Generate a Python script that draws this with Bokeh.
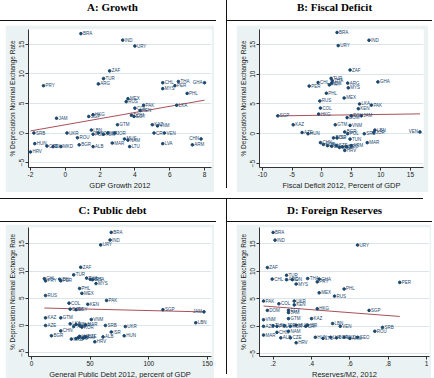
import numpy as np
from bokeh.plotting import figure
from bokeh.models import Range1d, FixedTicker, Spacer, Div, ColumnDataSource
from bokeh.layouts import row, column
from bokeh.embed import file_html
from bokeh.resources import INLINE
from bokeh.core.properties import value

# ---------------- data ----------------
y_label = "% Depreciation Nominal Exchange Rate"
y_ticks = [-5, 0, 5, 10, 15]

# Panel A: GDP growth 2012
a_labels = ["BRA","IND","URY","ZAF","TUR","ARG","PRY","CHL","THA","PER","MYS","GHA","PHL","MEX","RUS",
            "PAK","KEN","COL","LKA","JAM","SGP","HKG","DOM","EGY","GTM","KAZ","VNM","CRI","VEN","SRB",
            "UKR","ROU","LBN","POL","KOR","TUN","ISR","JOR","MUS","NAM","MAR","LTU","LVA","ARM","CHN",
            "ALB","BGR","MKD","CZE","HUN","BIH","HRV"]
a_x = [0.9,3.3,4.0,2.55,2.2,1.9,-1.25,5.6,6.5,6.3,5.6,8.0,7.0,3.6,3.5,
       4.5,4.3,4.0,6.4,-0.5,1.35,1.6,3.8,3.95,3.0,5.0,5.3,5.1,5.7,-1.8,
       0.1,0.7,1.5,1.6,1.9,2.2,2.45,2.85,3.4,3.6,2.7,3.7,5.6,7.3,7.8,
       1.6,0.8,-0.25,-1.05,-1.75,-0.7,-2.0]
a_y = [16.8,15.7,14.7,10.5,9.2,8.3,8.0,8.5,8.7,8.0,7.5,8.5,6.7,5.8,5.3,
       4.7,3.8,4.2,4.7,2.5,2.8,3.1,3.0,2.8,1.4,1.4,1.2,0.0,0.0,0.0,
       0.0,-0.8,0.5,-0.2,0.0,-0.2,0.0,0.0,-1.0,-1.2,-1.7,-2.3,-1.8,-2.0,-1.0,
       -2.3,-2.0,-2.3,-2.2,-1.8,-2.3,-3.2]
a_fit = (1.39, 0.52)          # intercept, slope
a_xticks = [-2, 0, 2, 4, 6, 8]
a_xlabels = ["-2", "0", "2", "4", "6", "8"]

# Panel B: fiscal deficit 2012
b_labels = ["BRA","IND","URY","ZAF","TUR","THA","IDN","PRY","CHL","PER","ARG","MYS","GHA","PHL","RUS",
            "MEX","LKA","PAK","KEN","COL","SGP","HKG","DOM","EGY","JAM","GTM","VNM","KAZ","AZE","HUN",
            "BGR","POL","SRB","LBN","JOR","VEN","ROU","ISR","TUN","MAR","CHN","KOR","LTU","LVA","CZE",
            "MKD","ALB","GEO","ARM","HRV"]
b_x = [2.6,8.0,2.8,4.8,1.6,1.8,1.7,1.3,-0.6,-2.1,4.4,4.5,9.5,0.8,-0.3,
       3.8,6.4,8.4,6.2,-0.2,-7.4,-0.5,4.3,5.0,6.7,2.3,4.8,-4.8,-3.3,-2.3,
       3.9,4.4,7.2,9.0,8.8,16.6,2.0,2.6,4.8,7.7,-0.2,0.3,1.0,1.7,2.5,
       3.0,3.5,4.2,5.0,3.9]
b_y = [17.0,15.7,14.8,10.7,9.3,8.9,8.5,8.2,8.6,8.0,8.5,7.7,8.7,6.8,5.5,
       6.0,5.0,4.8,4.2,4.3,3.0,3.3,2.7,3.0,3.0,1.5,1.4,1.5,0.2,0.0,
       0.3,0.0,0.0,0.6,0.2,0.3,-0.7,-0.7,-0.9,-1.5,-1.5,-1.8,-2.0,-2.1,-2.0,
       -2.3,-2.2,-2.2,-2.0,-2.8]
b_fit = (3.1, 0.014)
b_xticks = [-10, -5, 0, 5, 10, 15]
b_xlabels = ["-10", "-5", "0", "5", "10", "15"]

# Panel C: general public debt 2012
c_labels = ["BRA","IND","URY","ZAF","TUR","THA","ARG","IDN","MYS","CHL","PRY","PER","GHA","PHL","MEX",
            "RUS","COL","KEN","PAK","DOM","EGY","SGP","JAM","LBN","KAZ","GTM","VNM","AZE","LKA","TUN",
            "POL","JOR","KOR","MAR","SRB","UKR","ISR","HUN","BGR","CHN","ALB","HRV","LTU","LVA","ROU",
            "CZE","MKD","ARM"]
c_x = [68,67,59,42,36,47,50,24,55,11,12,25,52,41,43,
       12,32,48,64,33,38,112,147,140,12,25,51,12,33,36,
       38,41,43,46,63,80,68,79,17,25,61,54,40,41,38,
       46,34,44]
c_y = [17.1,15.7,14.8,10.7,9.3,8.7,8.5,8.5,7.7,8.6,8.2,8.2,8.4,6.8,5.9,
       5.5,4.1,3.9,4.6,3.0,2.9,2.9,2.5,0.5,1.4,1.4,1.1,0.0,0.3,-0.2,
       0.2,0.0,-0.3,0.1,0.0,-0.2,-1.2,-1.9,-1.9,-1.0,-2.1,-3.0,-2.2,-2.0,-2.4,
       -2.1,-2.5,-2.3]
c_fit = (3.26, -0.0052)
c_xticks = [0, 50, 100, 150]
c_xlabels = ["0", "50", "100", "150"]

# Panel D: reserves / M2 2012
d_labels = ["BRA","IND","URY","ZAF","TUR","CHL","ARG","IDN","THA","MYS","GHA","PRY","PER","PHL","MEX",
            "RUS","PAK","COL","UKR","KEN","DOM","EGY","JAM","HKG","SGP","VNM","GTM","KAZ","AZE","TUN",
            "POL","JOR","KOR","MUS","CRI","ISR","LBN","VEN","SRB","ROU","MAR","CHN","NAM","ALB","CZE",
            "HRV","HUN","LTU","LVA","BGR","MKD","ARM","GEO"]
d_x = [0.20,0.21,0.64,0.17,0.27,0.195,0.27,0.30,0.38,0.32,0.44,0.43,0.86,0.57,0.44,
       0.52,0.15,0.23,0.31,0.31,0.17,0.28,0.28,0.43,0.70,0.15,0.28,0.40,0.15,0.20,
       0.22,0.26,0.29,0.32,0.37,0.38,0.51,0.55,0.77,0.73,0.15,0.22,0.28,0.24,0.29,
       0.32,0.42,0.46,0.50,0.53,0.57,0.60,0.64]
d_y = [17.1,15.7,14.8,10.7,9.3,8.6,8.5,8.5,8.7,7.7,8.6,8.1,8.0,6.8,6.1,
       5.5,4.6,4.1,4.6,3.9,2.9,2.9,2.5,3.2,2.9,1.2,1.4,1.4,0.0,0.1,
       0.0,0.1,0.0,0.2,0.0,0.2,0.5,0.0,-0.2,-0.9,-1.6,-1.1,-0.9,-2.1,-2.1,
       -3.0,-2.0,-2.2,-2.0,-2.1,-2.0,-2.2,-2.0]
d_fit = (4.1, -2.68)
d_xticks = [0.2, 0.4, 0.6, 0.8, 1.0]
d_xlabels = [".2", ".4", ".6", ".8", "1"]

titles = ["A: Growth", "B: Fiscal Deficit", "C: Public debt", "D: Foreign Reserves"]
x_titles = ["GDP Growth 2012", "Fiscal Deficit 2012, Percent of GDP",
            "General Public Debt 2012, percent of GDP", "Reserves/M2, 2012"]

# ---------------- style ----------------
NAVY = "#1A476F"
FIT = "#A85058"
BG = "#EAF2F3"
GRID = "#DCE6E8"
AXC = "#333333"
SANS = "Liberation Sans"


def panel(labels, xs, ys, fit, xticks, xlabels, xtitle, xr, yr, w, h, borders):
    bl, br, bt, bb = borders
    p = figure(width=w, height=h, output_backend="svg", toolbar_location=None,
               x_range=Range1d(*xr), y_range=Range1d(*yr),
               min_border_left=bl, min_border_right=br,
               min_border_top=bt, min_border_bottom=bb)
    p.background_fill_color = "white"
    p.border_fill_color = BG
    p.outline_line_color = None
    p.xgrid.visible = False
    p.ygrid.grid_line_color = GRID
    p.ygrid.grid_line_width = 1

    p.xaxis.ticker = FixedTicker(ticks=xticks)
    p.xaxis.major_label_overrides = {t: l for t, l in zip(xticks, xlabels)}
    p.yaxis.ticker = FixedTicker(ticks=y_ticks)
    p.yaxis.major_label_orientation = "vertical"
    p.xaxis.axis_label = xtitle
    p.yaxis.axis_label = y_label
    for ax in (p.xaxis[0], p.yaxis[0]):
        ax.axis_line_color = AXC
        ax.major_tick_line_color = AXC
        ax.major_tick_out = 3
        ax.major_tick_in = 0
        ax.minor_tick_out = 0
        ax.minor_tick_in = 0
        ax.major_label_text_font = SANS
        ax.major_label_text_font_size = "6.5px"
        ax.major_label_text_color = "#222222"
        ax.major_label_standoff = 1
        ax.axis_label_text_font = SANS
        ax.axis_label_text_font_style = "normal"
        ax.axis_label_text_color = "#222222"
        ax.axis_label_standoff = 1
    p.xaxis.axis_label_text_font_size = "7.5px"
    p.yaxis.axis_label_text_font_size = "6.5px"

    lo, hi = min(xs), max(xs)
    fx = np.array([lo, hi])
    p.line(fx, fit[0] + fit[1] * fx, line_color=FIT, line_width=1)
    p.scatter(xs, ys, size=2.6, marker="circle", fill_color=NAVY, line_color=NAVY)

    # labels to the right of each point; points close to the right edge get theirs on the left
    span = xr[1] - xr[0]
    near = [(x - xr[0]) / span > 0.93 for x in xs]
    src_r = ColumnDataSource(dict(x=[x for x, n in zip(xs, near) if not n],
                                  y=[y for y, n in zip(ys, near) if not n],
                                  t=[t for t, n in zip(labels, near) if not n]))
    src_l = ColumnDataSource(dict(x=[x for x, n in zip(xs, near) if n],
                                  y=[y for y, n in zip(ys, near) if n],
                                  t=[t for t, n in zip(labels, near) if n]))
    p.text("x", "y", text="t", source=src_r, x_offset=2, text_font=value(SANS),
           text_font_size="4.5px", text_baseline="middle", text_align="left", text_color=NAVY)
    p.text("x", "y", text="t", source=src_l, x_offset=-2, text_font=value(SANS),
           text_font_size="4.5px", text_baseline="middle", text_align="right", text_color=NAVY)
    return p


def hline(w):
    return Spacer(width=w, height=1, styles={"background-color": "#111111"})


def vline(h):
    return Spacer(width=1, height=h, styles={"background-color": "#111111"})


def cell(title, fig, cw, th, ch, pad):
    l, r, t, b = pad
    tdiv = Div(text=title, width=cw, height=th,
               styles={"font-family": "Liberation Serif", "font-weight": "bold",
                       "font-size": "11px", "text-align": "center",
                       "line-height": f"{th}px", "color": "#000000"})
    chart = column(Spacer(width=cw, height=t),
                   row(Spacer(width=l, height=fig.height), fig, Spacer(width=r, height=fig.height)),
                   Spacer(width=cw, height=b))
    return column(tdiv, hline(cw), chart)


pA = panel(a_labels, a_x, a_y, a_fit, a_xticks, a_xlabels, x_titles[0],
           (-2.11, 8.4), (-5.83, 17.5), 209, 167, (22, 3, 4, 23))
pB = panel(b_labels, b_x, b_y, b_fit, b_xticks, b_xlabels, x_titles[1],
           (-10.49, 17.2), (-5.67, 17.5), 192, 167, (18, 5, 4, 24))
pC = panel(c_labels, c_x, c_y, c_fit, c_xticks, c_xlabels, x_titles[2],
           (-2.5, 153.4), (-5.7, 18.0), 209, 157, (22, 3, 3, 21))
pD = panel(d_labels, d_x, d_y, d_fit, d_xticks, d_xlabels, x_titles[3],
           (0.129, 1.015), (-5.5, 18.0), 195, 157, (18, 2, 3, 22))

cA = cell(titles[0], pA, 217, 15, 177, (6, 2, 4, 6))
cB = cell(titles[1], pB, 205, 15, 177, (9, 4, 4, 6))
cC = cell(titles[2], pC, 217, 12, 162, (6, 2, 2, 3))
cD = cell(titles[3], pD, 205, 12, 162, (9, 1, 2, 3))

H1 = 15 + 1 + 177
H2 = 12 + 1 + 162
W = 1 + 217 + 1 + 205 + 1
root = column(hline(W),
              row(vline(H1), cA, vline(H1), cB, vline(H1)),
              hline(W),
              row(vline(H2), cC, vline(H2), cD, vline(H2)),
              hline(W),
              styles={"margin-left": "-2px", "margin-top": "-6px"})

open("out.html", "w").write(file_html(root, INLINE))
